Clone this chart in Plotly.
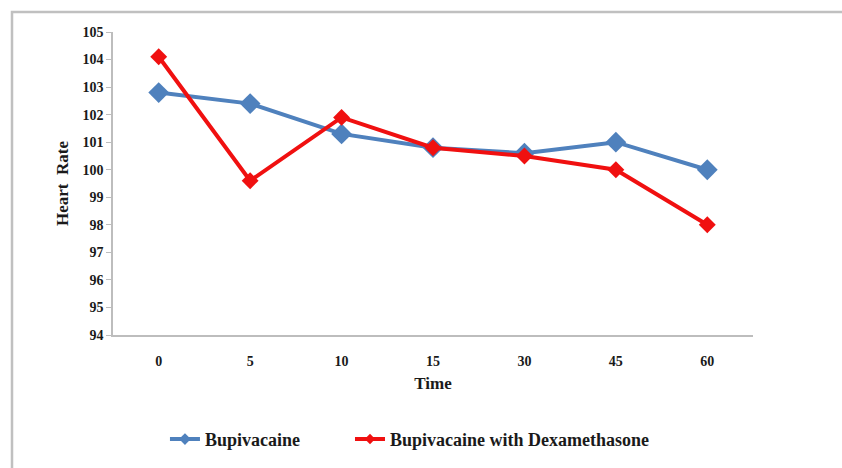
import plotly.graph_objects as go

times = ["0", "5", "10", "15", "30", "45", "60"]
bupivacaine = [102.8, 102.4, 101.3, 100.8, 100.6, 101.0, 100.0]
bupi_dexa = [104.1, 99.6, 101.9, 100.8, 100.5, 100.0, 98.0]
y_ticks = list(range(94, 106))
legend_names = ["Bupivacaine", "Bupivacaine with Dexamethasone"]

FONT = "Liberation Serif, Times New Roman, serif"
BLUE = "#4F81BD"
RED = "#F01010"

fig = go.Figure()
fig.add_trace(go.Scatter(
    x=times, y=bupivacaine, name=legend_names[0], mode="lines+markers",
    line=dict(color=BLUE, width=4),
    marker=dict(symbol="diamond", size=16, color=BLUE), showlegend=False,
))
fig.add_trace(go.Scatter(
    x=times, y=bupi_dexa, name=legend_names[1], mode="lines+markers",
    line=dict(color=RED, width=4),
    marker=dict(symbol="diamond", size=13, color=RED), showlegend=False,
))
# legend entries (smaller symbols, as in the reference legend)
fig.add_trace(go.Scatter(
    x=[None], y=[None], name=legend_names[0] + "&nbsp;" * 10, mode="lines+markers",
    line=dict(color=BLUE, width=4), marker=dict(symbol="diamond", size=9, color=BLUE),
))
fig.add_trace(go.Scatter(
    x=[None], y=[None], name=legend_names[1], mode="lines+markers",
    line=dict(color=RED, width=4), marker=dict(symbol="diamond", size=8, color=RED),
))

fig.update_layout(
    width=842, height=468,
    margin=dict(l=113, r=89, t=32, b=132),
    paper_bgcolor="white", plot_bgcolor="white",
    font=dict(family=FONT, color="#1a1a1a", size=14, weight="bold"),
    showlegend=True,
    legend=dict(orientation="h", x=0.464, xanchor="center", y=-0.34, yanchor="middle",
                font=dict(family=FONT, size=18, weight="bold"),
                itemwidth=30, bgcolor="rgba(0,0,0,0)"),
    xaxis=dict(
        type="category", range=[-0.5, 6.5], showgrid=False, zeroline=False,
        showline=True, linecolor="#bdbdbd", linewidth=1.5,
        ticks="outside", ticklen=12, tickcolor="rgba(0,0,0,0)",
        tickfont=dict(family=FONT, size=14, weight="bold"),
        title=dict(text="Time", font=dict(family=FONT, size=17, weight="bold"), standoff=10),
    ),
    yaxis=dict(
        range=[94, 105], tickvals=y_ticks, showgrid=False, zeroline=False,
        showline=True, linecolor="#bdbdbd", linewidth=1.5, ticks="outside",
        ticklen=5, tickcolor="#bdbdbd",
        tickfont=dict(family=FONT, size=14, weight="bold"),
        title=dict(text="Heart&nbsp;&nbsp;Rate", font=dict(family=FONT, size=17, weight="bold"), standoff=10),
    ),
    shapes=[dict(
        type="rect", xref="paper", yref="paper",
        x0=(12 - 113) / 640, x1=(860 - 113) / 640,
        y0=(336 - 480) / 304, y1=(336 - 12) / 304,
        line=dict(color="#c0c0c0", width=2.5), fillcolor="rgba(0,0,0,0)", layer="below",
    )],
)

fig.write_html("out.html")
